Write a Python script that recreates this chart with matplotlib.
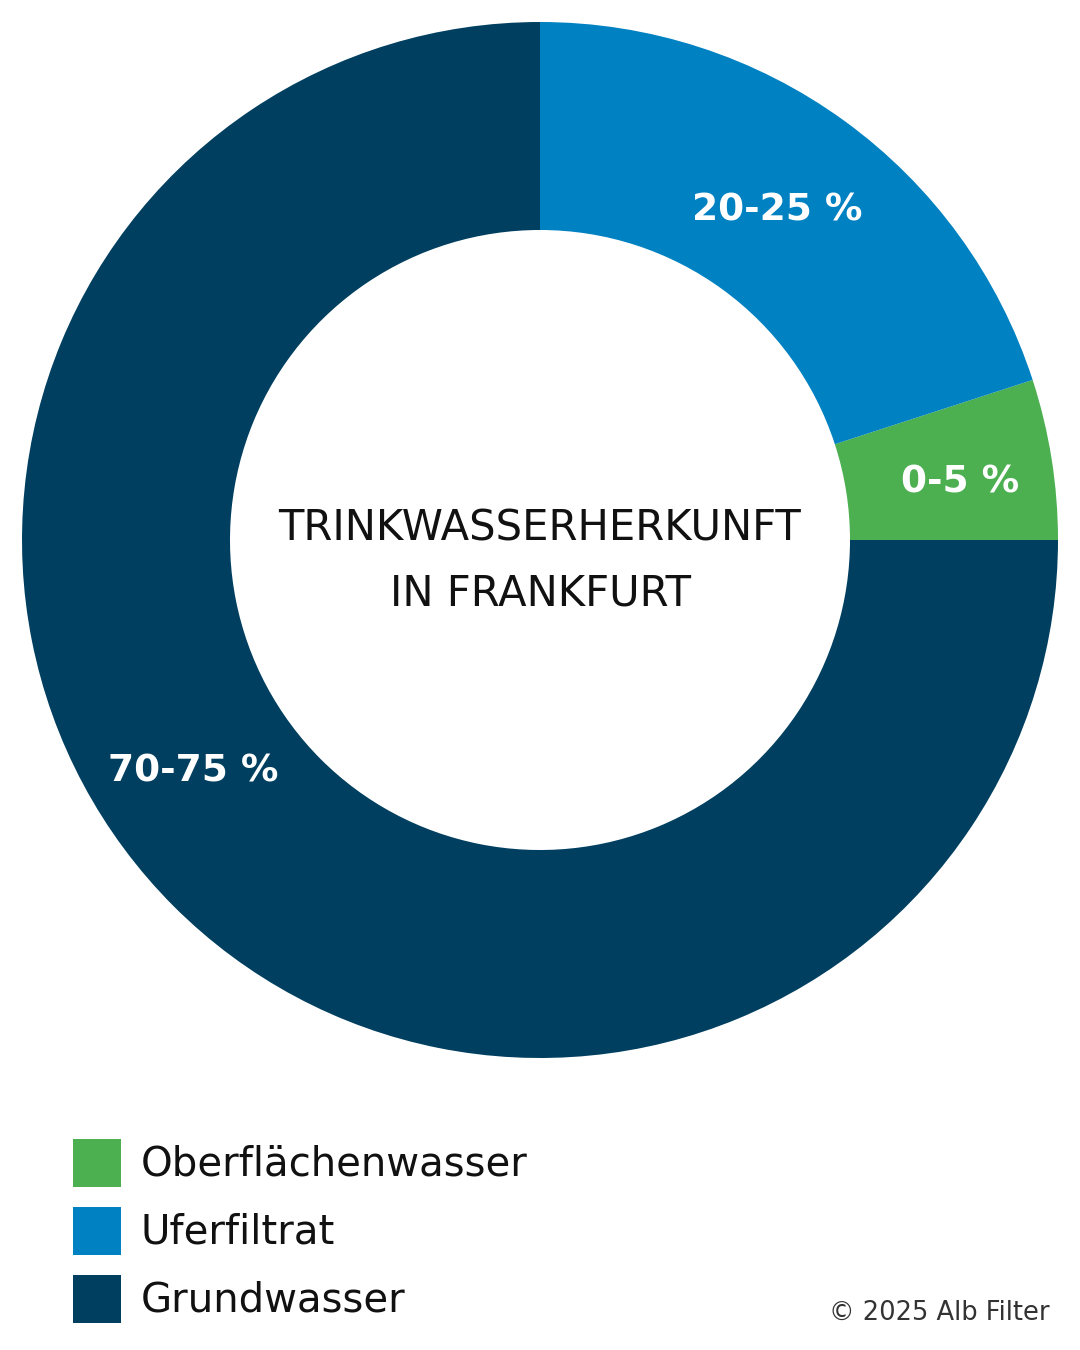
import numpy as np
import matplotlib
matplotlib.use("Agg")
import matplotlib.pyplot as plt
from matplotlib.patches import Rectangle

# data
categories = ["Oberflächenwasser", "Uferfiltrat", "Grundwasser"]
values = [5, 20, 75]
labels = ["0-5 %", "20-25 %", "70-75 %"]
colors = ["#4caf50", "#0081c1", "#003f5f"]
label_shift = [-0.6, 0.5, -11.7]   # degrees off the wedge midpoint
label_r = [0.82, 0.79, 0.80]
center_lines = ["TRINKWASSERHERKUNFT", "IN FRANKFURT"]
credit = "© 2025 Alb Filter"

plt.rcParams["font.family"] = ["DejaVu Sans"]

W, H = 1080, 1350
fig = plt.figure(figsize=(W / 100, H / 100), dpi=100)
fig.patch.set_facecolor("white")

# donut: center (540, 540) px from top, outer radius 518 px
R = 518
cx, cy = 540, H - 540
ax = fig.add_axes([(cx - R) / W, (cy - R) / H, 2 * R / W, 2 * R / H])
ring = (518 - 310) / 518
wedges, _ = ax.pie(values, colors=colors, startangle=0, counterclock=True,
                   radius=1, wedgeprops=dict(width=ring, linewidth=0))
ax.set_xlim(-1, 1)
ax.set_ylim(-1, 1)
ax.set_aspect("equal")
ax.axis("off")

for w, lab, sh, r in zip(wedges, labels, label_shift, label_r):
    ang = np.deg2rad((w.theta1 + w.theta2) / 2 + sh)
    ax.text(r * np.cos(ang), r * np.sin(ang) - 0.008, lab, ha="center", va="center",
            color="white", fontsize=27, fontweight="bold")

ax.text(0, 0.022, center_lines[0], ha="center", va="center", fontsize=30, color="#111111")
ax.text(0, -0.103, center_lines[1], ha="center", va="center", fontsize=30, color="#111111")

# legend
sq = 48
for i, (cat, col) in enumerate(zip(categories, colors)):
    yc = 1163 + i * 68
    fig.patches.append(Rectangle((73 / W, (H - yc - sq / 2) / H), sq / W, sq / H,
                                 transform=fig.transFigure, color=col, lw=0))
    fig.text(141 / W, (H - yc - 2) / H, cat, ha="left", va="center",
             fontsize=29, color="#111111")

fig.text(1050 / W, (H - 1313) / H, credit, ha="right", va="center",
         fontsize=18.5, color="#333333")

fig.savefig("out.png", dpi=100, facecolor="white")
